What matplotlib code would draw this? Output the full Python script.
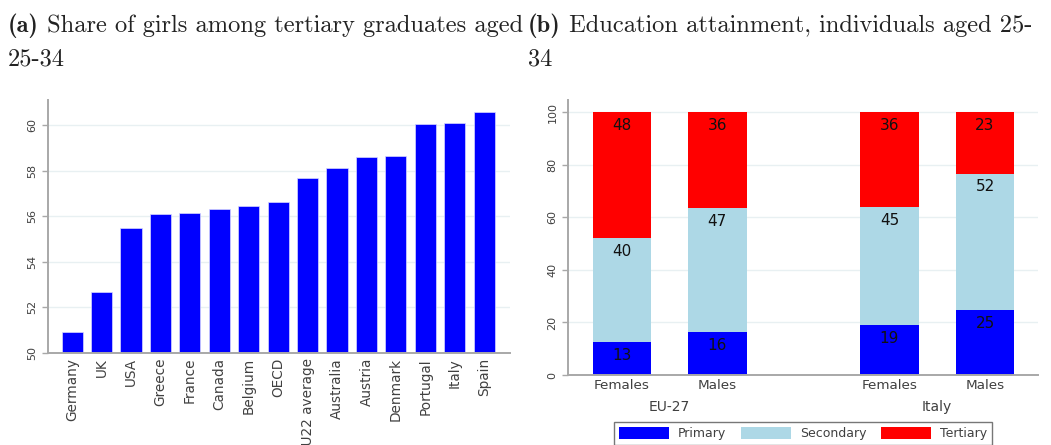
import matplotlib
matplotlib.use("Agg")
import matplotlib.pyplot as plt
import numpy as np

# panel (a): share of girls among tertiary graduates, 25-34
countries = ["Germany", "UK", "USA", "Greece", "France", "Canada", "Belgium", "OECD",
             "EU22 average", "Australia", "Austria", "Denmark", "Portugal", "Italy", "Spain"]
girls_share = [50.93, 52.66, 55.50, 56.08, 56.15, 56.32, 56.46, 56.61,
               57.68, 58.13, 58.60, 58.65, 60.03, 60.10, 60.57]

# panel (b): education attainment, 25-34
groups = ["EU-27", "Italy"]
sexes = ["Females", "Males", "Females", "Males"]
primary = [12.6, 16.2, 19.0, 24.6]
secondary = [39.5, 47.4, 44.8, 52.0]
tertiary = [47.9, 36.4, 36.2, 23.4]

BLUE = "#0000ff"
LIGHT = "#add8e6"
RED = "#ff0000"
SPINE = "#a8a8a8"
GRID = "#e8f0f2"
TXT = "#404040"

fig = plt.figure(figsize=(10.51, 4.45), dpi=100)
ax1 = fig.add_axes([0.0457, 0.2067, 0.4396, 0.5685])
ax2 = fig.add_axes([0.5402, 0.1573, 0.4475, 0.618])


def style(ax):
    for s in ["top", "right"]:
        ax.spines[s].set_visible(False)
    for s in ["left", "bottom"]:
        ax.spines[s].set_color(SPINE)
        ax.spines[s].set_linewidth(1.4)
    ax.grid(axis="y", color=GRID, linewidth=1.0)
    ax.set_axisbelow(True)
    ax.tick_params(axis="y", labelrotation=90, labelsize=8, colors=TXT,
                   length=4, width=1, color=SPINE)
    ax.tick_params(axis="x", length=0, colors=TXT)
    for lab in ax.get_yticklabels():
        lab.set_verticalalignment("center")


# (a)
x = np.arange(len(countries))
ax1.bar(x, girls_share, width=0.72, color=BLUE, edgecolor="#d8d8ff", linewidth=0.5)
ax1.set_ylim(50, 61.1)
ax1.set_xlim(-0.82, 14.88)
ax1.set_yticks(np.arange(50, 61, 2))
ax1.set_xticks(x)
ax1.set_xticklabels(countries, rotation=90, fontsize=9.8)
style(ax1)

# (b)
pos = np.array([0, 1, 2.8, 3.8])
bw = 0.61
prim = np.array(primary)
sec = np.array(secondary)
ter = np.array(tertiary)
b1 = ax2.bar(pos, prim, width=bw, color=BLUE, label="Primary")
b2 = ax2.bar(pos, sec, width=bw, bottom=prim, color=LIGHT, label="Secondary")
b3 = ax2.bar(pos, ter, width=bw, bottom=prim + sec, color=RED, label="Tertiary")
for bottoms, vals in [(np.zeros(4), prim), (prim, sec), (prim + sec, ter)]:
    for p, b, v in zip(pos, bottoms, vals):
        ax2.annotate(f"{v:.0f}", (p, b + v), xytext=(0, -9.5), textcoords="offset points",
                     ha="center", va="center", fontsize=11, color="#111111")
ax2.set_ylim(0, 104.7)
ax2.set_xlim(-0.565, 4.355)
ax2.set_yticks(np.arange(0, 101, 20))
ax2.set_xticks(pos)
ax2.set_xticklabels(sexes, fontsize=9.7)
ax2.tick_params(axis="x", pad=3)
style(ax2)
for i, g in enumerate(groups):
    mid = (pos[2 * i] + pos[2 * i + 1]) / 2
    ax2.text(mid, -0.115, g, transform=ax2.get_xaxis_transform(),
             ha="center", va="center", fontsize=10, color=TXT)

leg = fig.legend(handles=[b1, b2, b3], loc="upper center", ncol=3,
                 bbox_to_anchor=(0.764, 0.0524), fontsize=9, frameon=True,
                 fancybox=False, edgecolor="#555555", handlelength=4.0,
                 handleheight=1.2, handletextpad=0.7, columnspacing=1.2,
                 borderpad=0.4, borderaxespad=0)
leg.get_frame().set_linewidth(1.0)
for t in leg.get_texts():
    t.set_color(TXT)

# subfigure captions: bold label followed by roman text
fig.canvas.draw()
renderer = fig.canvas.get_renderer()
tsize = 17.6
captions = [
    (8, "(a)", " Share of girls among tertiary graduates aged", "25-34"),
    (528, "(b)", " Education attainment, individuals aged 25-", "34"),
]
H = 445
for x0, lab, line1, line2 in captions:
    t = fig.text(x0 / 1051, 1 - 32 / H, lab, fontfamily="cmb10", fontsize=tsize,
                 va="baseline", ha="left", color="#222222")
    bb = t.get_window_extent(renderer)
    fig.text(bb.x1 / 1051, 1 - 32 / H, line1, fontfamily="cmr10", fontsize=tsize,
             va="baseline", ha="left", color="#222222")
    fig.text(x0 / 1051, 1 - 65 / H, line2, fontfamily="cmr10", fontsize=tsize,
             va="baseline", ha="left", color="#222222")

fig.savefig("out.png", dpi=100)
